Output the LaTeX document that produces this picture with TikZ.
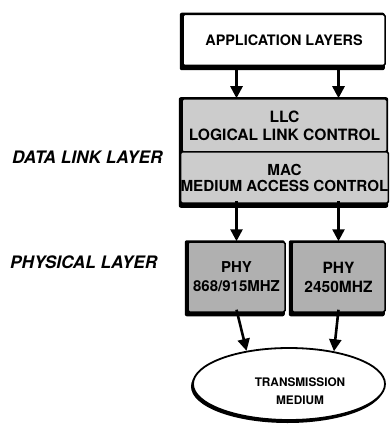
\documentclass[tikz,border=0pt]{standalone}
\usepackage{fontspec}
\setmainfont{TeX Gyre Heros}
\usetikzlibrary{shapes.geometric,arrows.meta}
\pgfdeclarelayer{bg}
\pgfsetlayers{bg,main}
\begin{document}
\begin{tikzpicture}[x=1pt,y=-1pt,
  box/.style={draw=black,line width=1.5pt,rounded corners=1.5pt,inner sep=0pt,align=center,
    font=\fontsize{15}{18}\selectfont\bfseries},
  shadowfill/.style={fill=black,rounded corners=2pt},
  arr/.style={line width=2.6pt,-{Triangle[length=12pt,width=12pt]}},
  side/.style={anchor=west,inner sep=0pt,font=\fontsize{17.2}{20}\selectfont\bfseries\itshape}]
\useasboundingbox (0,0) rectangle (389,430);
\node[box,fill=white,minimum width=202pt,minimum height=51pt,font=\fontsize{14.4}{17}\selectfont\bfseries] (app) at (284,40) {APPLICATION LAYERS};
\node[box,fill=gray!40,minimum width=205pt,minimum height=53pt,font=\fontsize{15.6}{18}\selectfont\bfseries] (llc) at (284.5,125.5) {LLC\\LOGICAL LINK CONTROL};
\node[box,fill=gray!40,minimum width=205pt,minimum height=51pt,font=\fontsize{15.2}{16}\selectfont\bfseries] (mac) at (284.5,177.5) {MAC\\MEDIUM ACCESS CONTROL};
\node[box,fill=gray!62,minimum width=97pt,minimum height=70pt,font=\fontsize{15}{19}\selectfont\bfseries] (phy1) at (236.5,277) {PHY\\868/915MHZ};
\node[box,fill=gray!62,minimum width=93pt,minimum height=70pt,font=\fontsize{15.5}{19}\selectfont\bfseries] (phy2) at (338.5,277) {PHY\\2450MHZ};
\node[ellipse,draw=black,line width=1.8pt,fill=white,minimum width=192pt,minimum height=72pt,inner sep=0pt] (tm) at (289,384) {};
\node[align=center,inner sep=0pt,font=\fontsize{11.8}{18}\selectfont\bfseries] (tmt) at (300,391) {TRANSMISSION\\MEDIUM};
\begin{pgfonlayer}{bg}
  \fill[shadowfill] ([shift={(-2.5,-1)}]app.north west) rectangle ([shift={(-1,4)}]app.south east);
  \fill[shadowfill] ([shift={(-2.5,-1)}]llc.north west) rectangle ([shift={(-1,4)}]mac.south east);
  \fill[shadowfill] ([shift={(-2.5,-1)}]phy1.north west) rectangle ([shift={(-1,3.5)}]phy1.south east);
  \fill[shadowfill] ([shift={(-2.5,-1)}]phy2.north west) rectangle ([shift={(-1,3.5)}]phy2.south east);
  \fill[black] ([shift={(-1.5,2.5)}]tm.center) ellipse [x radius=96.5pt,y radius=36.5pt];
\end{pgfonlayer}
\node[side] (dll) at (12,157) {DATA LINK LAYER};
\node[side] (pl) at (10,262) {PHYSICAL LAYER};
\draw[arr] (app.south -| phy1) -- (llc.north -| phy1);
\draw[arr] (app.south -| phy2) -- (llc.north -| phy2);
\draw[arr] ([yshift=3pt]mac.south -| phy1) -- (phy1.north);
\draw[arr] ([yshift=3pt]mac.south -| phy2) -- (phy2.north);
\draw[arr] ([yshift=3pt]phy1.south) -- (tm.142);
\draw[arr] ([yshift=3pt]phy2.south) -- (tm.36);
\end{tikzpicture}
\end{document}
